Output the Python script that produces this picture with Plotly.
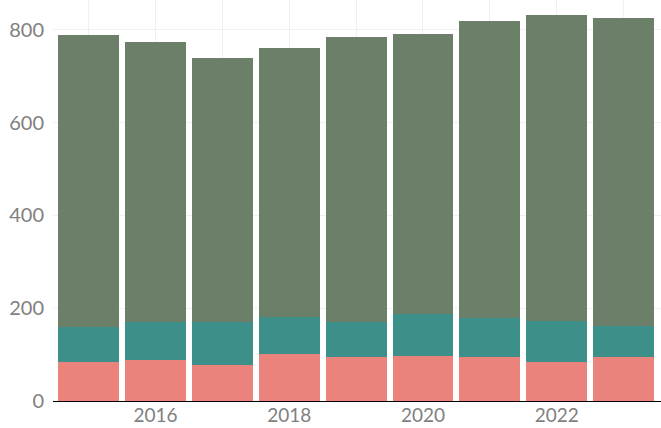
import plotly.graph_objects as go

years = [2015, 2016, 2017, 2018, 2019, 2020, 2021, 2022, 2023]
bottom_vals = [85, 88, 77, 102, 94, 96, 94, 84, 94]
middle_vals = [74, 83, 94, 78, 76, 91, 85, 88, 67]
top_vals = [630, 603, 568, 581, 614, 604, 640, 660, 664]

_SALMON = "#eb837d"
_TEAL = "#3d8f8a"
_SAGE = "#6c7f68"
_GRID = "#f0f0f0"
_TICK = "#808080"

fig = go.Figure()
for vals, color in [(bottom_vals, _SALMON), (middle_vals, _TEAL), (top_vals, _SAGE)]:
    fig.add_trace(go.Bar(x=years, y=vals, marker_color=color, marker_line_width=0))

fig.update_layout(
    barmode="stack", bargap=0.09, showlegend=False,
    width=661, height=428,
    margin=dict(l=53, r=0, t=0, b=27),
    paper_bgcolor="white", plot_bgcolor="white",
    font=dict(family="Lato, sans-serif", size=20, color=_TICK),
)
fig.update_xaxes(
    range=[2014.466, 2023.56], tick0=2016, dtick=2,
    showgrid=True, gridcolor=_GRID, gridwidth=1,
    minor=dict(dtick=1, tick0=2015, showgrid=True, gridcolor=_GRID, gridwidth=1),
    showline=True, linecolor="black", linewidth=1, ticks="",
    ticklabelstandoff=-3, automargin=False,
    tickfont=dict(size=19, color=_TICK),
)
fig.update_yaxes(
    range=[0, 864], tickvals=[0, 200, 400, 600, 800],
    showgrid=True, gridcolor=_GRID, gridwidth=1, zeroline=False,
    ticks="", ticklabelstandoff=8, automargin=False,
    tickfont=dict(size=20, color=_TICK),
)
fig.write_html("out.html", config={"displayModeBar": False},
               post_script="document.body.style.margin='0';")
